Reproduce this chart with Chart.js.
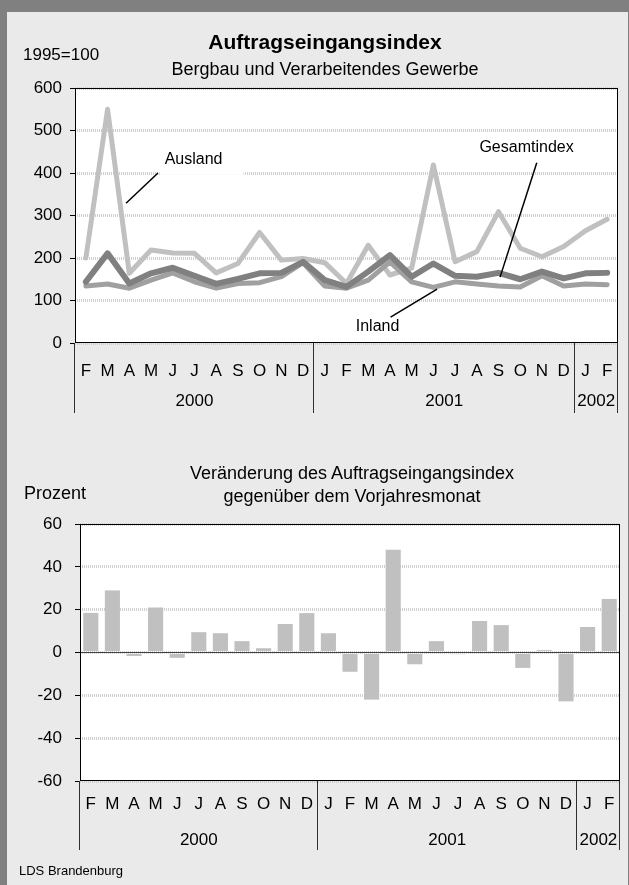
<!DOCTYPE html>
<html>
<head>
<meta charset="utf-8">
<script src="https://cdn.jsdelivr.net/npm/chart.js@4"></script>
<style>
  body { margin: 0; background: #808080; width: 629px; height: 885px; overflow: hidden;
         font-family: "Liberation Sans", Arial, sans-serif; }
  #page { position: absolute; left: 7px; top: 12px; width: 621px; height: 873px; background: #eaeaea; }
  canvas { position: absolute; left: 0; }
  .t { position: absolute; color: #000; white-space: nowrap; line-height: 1; transform: translate(-50%, -50%); }
  .l { position: absolute; color: #000; white-space: nowrap; line-height: 1; transform: translateY(-50%); }
</style>
</head>
<body>
<div id="page"></div>
<canvas id="indexChart" width="629" height="440" style="top:0"></canvas>
<canvas id="changeChart" width="629" height="445" style="top:440px"></canvas>

<div class="t" style="left:325px;top:41px;font-size:21px;font-weight:bold">Auftragseingangsindex</div>
<div class="t" style="left:325px;top:69px;font-size:18px">Bergbau und Verarbeitendes Gewerbe</div>
<div class="l" style="left:23px;top:54px;font-size:17px">1995=100</div>

<div class="t" style="left:352px;top:473px;font-size:18px">Veränderung des Auftragseingangsindex</div>
<div class="t" style="left:352px;top:496px;font-size:18px">gegenüber dem Vorjahresmonat</div>
<div class="l" style="left:24px;top:493px;font-size:18px">Prozent</div>

<div class="l" style="left:19px;top:870px;font-size:13px">LDS Brandenburg</div>

<script>
// Monate Feb 2000 bis Feb 2002
const months = ["F", "M", "A", "M", "J", "J", "A", "S", "O", "N", "D",
                "J", "F", "M", "A", "M", "J", "J", "A", "S", "O", "N", "D",
                "J", "F"];
const years = ["2000", "2001", "2002"];
const yearCounts = [11, 12, 2];

// Auftragseingangsindex 1995=100
const ausland = [200, 550, 164, 219, 212, 211, 165, 187, 260, 195, 199,
                 189, 140, 230, 160, 176, 419, 191, 215, 309, 223, 203, 227,
                 264, 291];
const gesamtindex = [144, 211, 140, 164, 177, 158, 139, 151, 164, 165, 191,
                     148, 132, 168, 207, 156, 187, 158, 156, 165, 150, 168, 152,
                     164, 165];
const inland = [134, 139, 129, 148, 165, 144, 129, 140, 142, 156, 189,
                134, 129, 148, 191, 144, 131, 144, 139, 134, 132, 158, 134,
                139, 137];

// Veränderung gegenüber dem Vorjahresmonat in Prozent
const veraenderung = [18.5, 29, -1.6, 21, -2.5, 9.5, 9, 5.3, 2, 13.3, 18.4,
                      9, -9, -22, 48, -5.5, 5.3, -0.8, 14.7, 12.8, -7.2, 1.1, -22.8,
                      11.9, 25];

const FONT = '"Liberation Sans", Arial, sans-serif';
Chart.defaults.font.family = FONT;
Chart.defaults.color = "#000";

const plotBox = {
  id: "plotBox",
  beforeDraw(chart) {
    const { ctx, chartArea: a } = chart;
    ctx.save();
    ctx.fillStyle = "#fff";
    ctx.fillRect(a.left, a.top, a.right - a.left, a.bottom - a.top);
    ctx.restore();
  },
  afterDraw(chart) {
    const { ctx, chartArea: a } = chart;
    ctx.save();
    ctx.strokeStyle = "#000";
    ctx.lineWidth = 1;
    ctx.strokeRect(a.left + 0.5, a.top + 0.5, a.right - a.left - 1, a.bottom - a.top - 1);
    ctx.restore();
  }
};

function yearAxis(labelOffset, lineEnd) {
  return {
    id: "yearAxis",
    afterDraw(chart) {
      const xs = chart.scales.x;
      const ctx = chart.ctx;
      const bottom = chart.chartArea.bottom;
      const edges = [-0.5];
      let start = 0;
      ctx.save();
      ctx.font = "17px " + FONT;
      ctx.fillStyle = "#000";
      ctx.textAlign = "center";
      ctx.textBaseline = "middle";
      years.forEach((y, i) => {
        const end = start + yearCounts[i];
        const x0 = xs.getPixelForValue(start - 0.5);
        const x1 = xs.getPixelForValue(end - 0.5);
        ctx.fillText(y, (x0 + x1) / 2, bottom + labelOffset);
        edges.push(end - 0.5);
        start = end;
      });
      ctx.strokeStyle = "#303030";
      ctx.lineWidth = 1;
      edges.forEach(e => {
        const x = Math.round(xs.getPixelForValue(e)) - 0.5;
        ctx.beginPath();
        ctx.moveTo(x, bottom);
        ctx.lineTo(x, bottom + lineEnd);
        ctx.stroke();
      });
      ctx.restore();
    }
  };
}

// Beschriftungen mit Hinweislinien (Position in Datenkoordinaten)
const notes = [
  { text: "Ausland", at: [4.96, 431], from: [3.32, 400], to: [1.85, 329], box: true },
  { text: "Gesamtindex", at: [20.29, 459], from: [20.76, 424], to: [19.07, 155] },
  { text: "Inland", at: [13.43, 38], from: [14.03, 61], to: [16.17, 127] }
];

const noteLabels = {
  id: "noteLabels",
  afterDatasetsDraw(chart) {
    const xs = chart.scales.x, ys = chart.scales.y, ctx = chart.ctx;
    ctx.save();
    ctx.font = "16px " + FONT;
    ctx.textAlign = "center";
    ctx.textBaseline = "middle";
    notes.forEach(n => {
      const tx = xs.getPixelForValue(n.at[0]), ty = ys.getPixelForValue(n.at[1]);
      if (n.box) {
        const w = ctx.measureText(n.text).width;
        ctx.fillStyle = "#fff";
        ctx.fillRect(tx - w / 2 - 5, ty - 11, w + 26, 26);
      }
      ctx.strokeStyle = "#000";
      ctx.lineWidth = 1.5;
      ctx.beginPath();
      ctx.moveTo(xs.getPixelForValue(n.from[0]), ys.getPixelForValue(n.from[1]));
      ctx.lineTo(xs.getPixelForValue(n.to[0]), ys.getPixelForValue(n.to[1]));
      ctx.stroke();
      ctx.fillStyle = "#000";
      ctx.fillText(n.text, tx, ty);
    });
    ctx.restore();
  }
};

const zeroLine = {
  id: "zeroLine",
  afterDatasetsDraw(chart) {
    const { ctx, chartArea: a } = chart;
    const y = Math.round(chart.scales.y.getPixelForValue(0)) - 0.5;
    ctx.save();
    ctx.strokeStyle = "#404040";
    ctx.lineWidth = 1;
    ctx.beginPath();
    ctx.moveTo(a.left, y);
    ctx.lineTo(a.right, y);
    ctx.stroke();
    ctx.restore();
  }
};

const gridStyle = {
  color: "#d0d0d0",
  lineWidth: 3,
  tickColor: "#000",
  tickLength: 5,
  tickWidth: 1
};

new Chart(document.getElementById("indexChart"), {
  type: "line",
  data: {
    labels: months,
    datasets: [
      { label: "Gesamtindex", data: gesamtindex, borderColor: "#808080", borderWidth: 6 },
      { label: "Inland", data: inland, borderColor: "#a0a0a0", borderWidth: 5 },
      { label: "Ausland", data: ausland, borderColor: "#c0c0c0", borderWidth: 5 }
    ]
  },
  options: {
    responsive: false,
    animation: false,
    layout: { padding: { top: 88, right: 11, left: 0, bottom: 0 } },
    elements: {
      point: { radius: 0 },
      line: { tension: 0, borderJoinStyle: "round", borderCapStyle: "round" }
    },
    plugins: { legend: { display: false }, tooltip: { enabled: false } },
    scales: {
      x: {
        type: "category",
        offset: true,
        grid: { display: false },
        border: { display: false },
        ticks: { font: { size: 17 }, padding: 10, maxRotation: 0, autoSkip: false },
        afterFit: s => { s.height = 97; }
      },
      y: {
        min: 0,
        max: 600,
        grid: gridStyle,
        border: { display: false, dash: [1, 1] },
        ticks: { stepSize: 100, font: { size: 17 }, padding: 8 },
        afterFit: s => { s.width = 75; }
      }
    }
  },
  plugins: [plotBox, yearAxis(58, 70), noteLabels]
});

new Chart(document.getElementById("changeChart"), {
  type: "bar",
  data: {
    labels: months,
    datasets: [
      { label: "Veränderung", data: veraenderung, backgroundColor: "#c0c0c0",
        borderWidth: 0, barPercentage: 0.7, categoryPercentage: 1 }
    ]
  },
  options: {
    responsive: false,
    animation: false,
    layout: { padding: { top: 84, right: 9, left: 0, bottom: 0 } },
    plugins: { legend: { display: false }, tooltip: { enabled: false } },
    scales: {
      x: {
        grid: { display: false },
        border: { display: false },
        ticks: { font: { size: 17 }, padding: 5, maxRotation: 0, autoSkip: false },
        afterFit: s => { s.height = 104; }
      },
      y: {
        min: -60,
        max: 60,
        grid: gridStyle,
        border: { display: false, dash: [1, 1] },
        ticks: { stepSize: 20, font: { size: 17 }, padding: 13 },
        afterFit: s => { s.width = 80; }
      }
    }
  },
  plugins: [plotBox, zeroLine, yearAxis(59, 69)]
});
</script>
</body>
</html>
